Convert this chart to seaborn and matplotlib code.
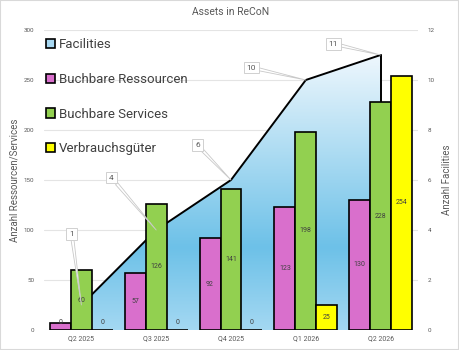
import numpy as np
import pandas as pd
import matplotlib
matplotlib.use("Agg")
import matplotlib.pyplot as plt
import seaborn as sns
from matplotlib.colors import LinearSegmentedColormap
from matplotlib.patches import Patch, Rectangle

quarters = ["Q2 2025", "Q3 2025", "Q4 2025", "Q1 2026", "Q2 2026"]
facilities = [1, 4, 6, 10, 11]
ressourcen = [7, 57, 92, 123, 130]
services = [60, 126, 141, 198, 228]
verbrauch = [0, 0, 0, 25, 254]
ressourcen_labels = ["0", "57", "92", "123", "130"]

series_names = ["Buchbare Ressourcen", "Buchbare Services", "Verbrauchsgüter"]
colors = {"Buchbare Ressourcen": "#d96fcc",
          "Buchbare Services": "#92d050",
          "Verbrauchsgüter": "#ffff00"}

df = pd.DataFrame({
    "quarter": quarters * 3,
    "series": [s for s in series_names for _ in quarters],
    "value": ressourcen + services + verbrauch,
})

sns.set_style("white")
plt.rcParams["font.family"] = ["Roboto", "DejaVu Sans"]

fig = plt.figure(figsize=(4.59, 3.5), dpi=100)
ax1 = fig.add_axes([44 / 459, 1 - 330 / 350, 374 / 459, 300 / 350])
ax2 = ax1.twinx()
ax2.set_zorder(ax1.get_zorder() - 1)
ax1.patch.set_visible(False)

# facilities area with gradient on the right axis
x = np.arange(len(quarters))
poly = ax2.fill_between(x, facilities, 0, color="none", lw=0)
cmap = LinearSegmentedColormap.from_list(
    "fac", [(0, "#a4d8f2"), (0.3, "#6dc1e8"), (1, "#eef7fd")])
grad = np.linspace(0, 1, 256).reshape(-1, 1)
img = ax2.imshow(grad, cmap=cmap, origin="lower", aspect="auto",
                 extent=[x[0], x[-1], 0, max(facilities)], zorder=1)
img.set_clip_path(poly.get_paths()[0], transform=ax2.transData)
ax2.plot(x, facilities, color="black", lw=1.4, zorder=2)
ax2.plot([x[-1], x[-1]], [facilities[-1], 0], color="black", lw=1.4, zorder=2)
ax2.set_ylim(0, 12)
ax2.set_yticks(range(0, 13, 2))
ax2.grid(axis="y", color="#e4e4e4", lw=0.8)
ax2.set_axisbelow(True)

# bars on the left axis
sns.barplot(data=df, x="quarter", y="value", hue="series", palette=colors,
            saturation=1, edgecolor="black", linewidth=1.2, width=0.84,
            ax=ax1, legend=False)
ax1.set_ylim(0, 300)
ax1.set_yticks(range(0, 301, 50))
ax1.set_xlim(-0.5, len(quarters) - 0.5)

all_labels = [ressourcen_labels, [str(v) for v in services], [str(v) for v in verbrauch]]
for cont, labs in zip(ax1.containers, all_labels):
    for bar, lab in zip(cont, labs):
        h = bar.get_height()
        ax1.text(bar.get_x() + bar.get_width() / 2, max(h / 2, 7), lab,
                 ha="center", va="center", fontsize=5, color="#404040")

# callouts for facilities
offsets = [(-0.13, 3.85), (0.4, 6.1), (1.55, 7.4), (2.27, 10.5), (3.37, 11.45)]
for xi, v, (tx, ty) in zip(x, facilities, offsets):
    ax1.annotate(str(v), xy=(xi, v), xycoords=ax2.transData,
                 xytext=(tx, ty), textcoords=ax2.transData,
                 ha="center", va="center", fontsize=6, color="#595959",
                 bbox=dict(boxstyle="square,pad=0.35", fc="white", ec="#d0d0d0", lw=0.7),
                 arrowprops=dict(arrowstyle="wedge,tail_width=0.35", fc="white",
                                 ec="#c8c8c8", lw=0.6, shrinkA=0, shrinkB=0),
                 annotation_clip=False, zorder=10)

for ax in (ax1, ax2):
    for s in ax.spines.values():
        s.set_visible(False)
    ax.tick_params(length=0, colors="#595959", labelsize=4.5, pad=7)
ax1.tick_params(axis="x", labelsize=5, pad=4)
ax1.set_xlabel("")
ax1.set_ylabel("Anzahl Ressourcen/Services", fontsize=7, color="#595959", labelpad=3)
ax2.set_ylabel("Anzahl Facilities", fontsize=7, color="#595959", labelpad=5)
ax1.set_title("Assets in ReCoN", fontsize=7.5, color="#595959", pad=11)

handles = [Patch(fc="#a8d8f2", ec="black", lw=1.2, label="Facilities")]
handles += [Patch(fc=colors[s], ec="black", lw=1.2, label=s) for s in series_names]
fig.legend(handles=handles, loc="upper left", bbox_to_anchor=(46 / 459, 1 - 38 / 350),
           frameon=False, fontsize=9.5, handlelength=0.7, handleheight=0.7,
           handletextpad=0.3, labelspacing=1.65, borderpad=0, borderaxespad=0,
           labelcolor="#404040")

fig.patches.append(Rectangle((0, 0), 1, 1, transform=fig.transFigure, fill=False,
                             ec="#d9d9d9", lw=1.5))
fig.savefig("out.png", dpi=100)
